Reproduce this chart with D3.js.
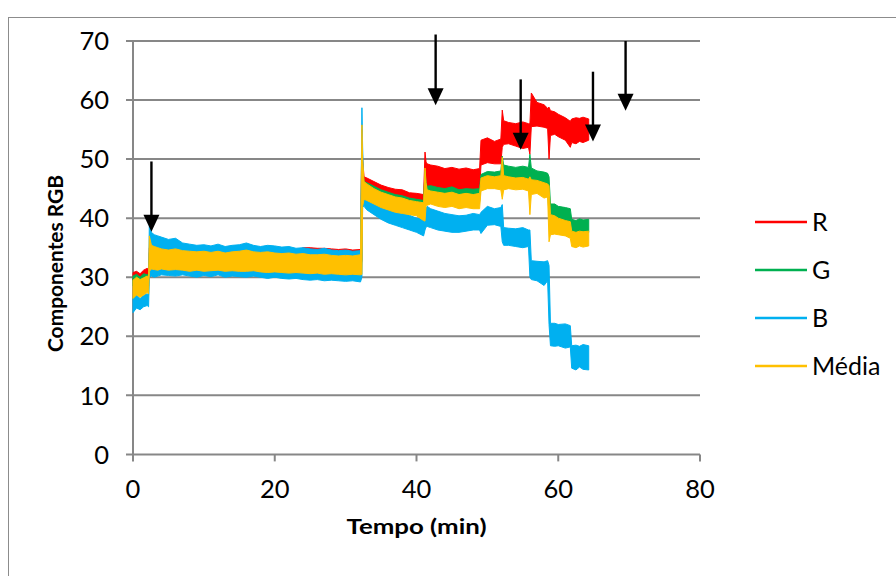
<!DOCTYPE html>
<html>
<head>
<meta charset="utf-8">
<script src="https://cdn.jsdelivr.net/npm/d3@7"></script>
<style>
  html, body { margin: 0; padding: 0; background: #fff; }
  svg { display: block; }
  text { font-family: Lato, "Open Sans", sans-serif; fill: #000; }
</style>
</head>
<body>
<svg id="chart" width="896" height="576"></svg>
<script>
// ---------------- DATA ----------------
const tempo = [0,0.5,1,1.5,2,2.2,
  2.3,2.6,3,3.5,4,5,6,7,8,9,10,11,12,13,14,15,16,17,18,19,20,21,22,23,24,25,26,27,28,29,30,31,32.1,
  32.3,32.4,
  32.6,33,34,35,36,37,38,39,40,41,
  41.2,41.35,
  41.5,42,43,44,45,46,47,48,48.9,
  49.1,50,51,51.9,
  52.1,52.3,
  53,54,55,55.8,
  56,56.2,
  57,58,58.5,
  58.7,58.9,
  59.5,60,61,61.7,
  61.9,62.5,63,63.5,64.3];

const rMax = [30.8,31.0,30.6,31.2,31.5,31.3,
  35.0,34.8,34.6,34.5,34.4,34.3,34.5,34.2,34.3,34.1,34.4,34.2,34.3,34.1,34.2,34.4,34.5,34.2,34.3,34.4,34.3,34.2,34.3,34.4,
  35.0,35.0,34.9,34.9,34.8,34.7,34.8,34.6,34.7,
  55.0,50.0,
  47.0,46.8,46.2,45.6,45.2,44.9,44.8,44.3,44.2,44.0,
  51.2,49.5,
  49.2,49.0,48.8,48.4,48.6,48.3,48.5,48.2,48.4,
  53.2,53.6,53.0,53.4,
  58.3,56.5,
  56.2,56.0,56.3,56.0,
  56.0,61.2,
  59.6,59.2,58.6,
  58.8,58.2,
  58.0,57.6,57.0,56.4,
  56.8,57.0,56.9,57.1,56.8];
const rMin = [29.5,29.6,29.5,29.7,29.8,29.7,
  31.0,31.0,31.0,31.0,31.0,31.0,31.0,31.0,31.0,31.0,31.0,31.0,31.0,31.0,31.0,31.0,31.0,31.0,31.0,31.0,31.0,31.0,31.0,31.0,
  31.0,31.0,31.0,31.0,31.0,31.0,31.0,31.0,31.0,
  33.0,44.0,
  44.5,44.4,43.8,43.4,43.0,42.6,42.4,42.2,42.0,41.8,
  43.0,45.0,
  45.0,45.2,45.0,44.6,44.8,44.4,44.6,44.8,44.6,
  49.0,49.4,49.2,49.2,
  52.0,52.5,
  52.6,52.2,51.8,52.0,
  50.8,55.5,
  55.6,55.4,55.2,
  50.0,54.0,
  54.2,53.8,53.2,52.0,
  52.8,52.6,53.0,52.8,53.2];

const gMax = [30.2,30.5,30.0,30.6,30.4,30.5,
  34.2,34.2,34.2,34.2,34.2,34.2,34.2,34.2,34.2,34.2,34.2,34.2,34.2,34.2,34.2,34.2,34.2,34.2,34.2,34.2,34.2,34.2,34.2,34.2,
  34.0,34.0,34.0,34.0,34.0,34.0,34.0,34.0,34.0,
  52.0,48.0,
  46.2,46.0,45.4,44.8,44.4,44.0,43.8,43.4,43.2,43.0,
  48.0,46.0,
  45.4,45.5,45.2,45.0,45.3,44.8,45.0,44.9,45.0,
  47.4,47.9,47.8,48.0,
  50.5,49.0,
  48.8,48.6,48.8,48.6,
  50.8,48.5,
  48.0,47.8,47.6,
  47.0,42.4,
  42.4,42.0,41.8,41.6,
  39.8,39.6,39.9,39.7,39.8];
const gMin = [28.5,28.5,28.5,28.5,28.5,28.5,
  31.2,31.2,31.2,31.2,31.2,31.2,31.2,31.2,31.2,31.2,31.2,31.2,31.2,31.2,31.2,31.2,31.2,31.2,31.2,31.2,31.2,31.2,31.2,31.2,
  31.2,31.2,31.2,31.2,31.2,31.2,31.2,31.2,31.2,
  33.0,43.0,
  43.8,43.5,43.0,42.6,42.2,41.8,41.6,41.4,41.2,41.0,
  42.0,43.0,
  43.2,43.2,43.0,42.8,43.0,42.8,42.8,42.6,42.8,
  45.2,45.5,45.6,45.6,
  45.0,46.0,
  46.6,46.4,46.5,46.3,
  46.0,46.0,
  45.8,45.5,45.2,
  40.0,40.0,
  39.8,39.6,39.5,39.0,
  37.6,37.4,37.6,37.5,37.6];

const bMax = [26.5,27.0,26.4,26.9,27.2,27.0,
  38.9,37.6,37.2,37.0,36.8,36.4,36.6,35.8,35.6,35.4,35.5,35.3,35.6,35.2,35.4,35.5,35.8,35.4,35.2,35.4,35.3,35.1,35.2,34.9,
  35.0,34.8,34.7,34.9,34.6,34.5,34.6,34.4,34.5,
  58.7,52.0,
  44.0,43.6,42.8,42.2,41.6,41.3,41.0,40.5,40.0,39.8,
  41.0,41.8,
  42.0,41.6,41.2,40.8,40.6,40.4,40.5,40.8,40.6,
  41.0,42.0,41.6,41.8,
  42.3,38.4,
  38.3,38.2,38.4,38.0,
  38.0,32.8,
  32.7,32.6,32.8,
  32.0,22.2,
  22.2,22.0,22.1,21.8,
  18.4,18.5,18.3,18.6,18.4];
const bMin = [24.0,24.8,24.5,25.0,25.2,25.0,
  30.0,30.2,30.0,30.2,30.4,30.3,30.2,30.4,30.2,30.0,30.3,30.1,30.4,30.0,30.2,30.1,30.0,30.2,30.0,29.8,30.0,29.8,29.7,29.8,
  29.6,29.5,29.6,29.4,29.5,29.4,29.3,29.4,29.2,
  30.0,42.0,
  42.0,41.4,40.6,39.8,39.2,38.8,38.4,38.0,37.6,37.0,
  38.0,38.5,
  38.6,38.4,38.0,37.8,37.6,37.6,37.8,38.0,38.0,
  37.4,38.8,38.9,38.6,
  36.0,35.4,
  35.4,35.2,35.0,35.2,
  30.0,29.6,
  29.4,28.6,29.4,
  22.0,18.4,
  18.3,18.4,18.0,18.2,
  14.6,14.3,14.8,14.4,14.3];

const mMax = [29.5,30.0,29.6,29.9,30.2,30.0,
  37.0,35.4,35.2,35.0,34.8,34.6,34.8,34.5,34.4,34.3,34.4,34.2,34.4,34.1,34.3,34.4,34.6,34.3,34.2,34.3,34.1,34.0,34.1,33.9,
  34.0,33.8,33.8,33.9,33.7,33.6,33.7,33.6,33.8,
  55.8,50.0,
  46.2,45.8,45.0,44.4,44.0,43.6,43.4,43.0,42.8,42.6,
  48.5,46.0,
  44.8,44.6,44.4,44.2,44.4,44.0,44.2,44.0,44.2,
  46.8,47.2,47.0,47.2,
  50.3,47.2,
  47.0,46.8,46.9,46.6,
  47.0,46.5,
  46.4,46.0,45.8,
  45.5,40.6,
  40.4,40.0,39.6,39.4,
  37.8,37.6,37.8,37.7,37.8];
const mMin = [26.4,27.0,26.6,27.0,27.4,27.2,
  31.0,31.4,31.3,31.2,31.4,31.2,31.3,31.2,31.0,31.2,31.0,31.1,31.2,31.0,31.1,31.0,31.0,31.1,30.9,30.8,30.9,30.8,30.7,30.8,
  30.7,30.6,30.7,30.5,30.6,30.5,30.4,30.5,30.4,
  30.5,42.0,
  43.2,43.0,42.4,41.8,41.4,41.0,40.8,40.6,40.4,39.6,
  39.5,42.0,
  42.2,42.4,42.0,41.8,42.0,41.6,41.8,41.6,41.6,
  44.6,45.0,45.0,44.8,
  43.2,44.8,
  45.0,44.8,44.9,44.6,
  40.6,44.0,
  44.2,43.4,43.6,
  36.0,37.2,
  37.3,37.2,37.0,36.6,
  35.2,35.0,35.3,35.1,35.3];

const seriesNames = ["R", "G", "B", "Média"];
const seriesColors = ["#FF0000", "#00B050", "#00B0F0", "#FFC000"];
const xTicks = [0, 20, 40, 60, 80];
const yTicks = [0, 10, 20, 30, 40, 50, 60, 70];
// arrows: time (min), top value, tip value
const arrowT   = [2.6, 42.7, 54.7, 64.9, 69.5];
const arrowTop = [49.6, 71.1, 63.5, 64.8, 70.0];
const arrowTip = [37.7, 59.1, 51.6, 53.0, 58.2];

// ---------------- CHART ----------------
const svg = d3.select("#chart");
const W = 896, H = 576;
svg.append("rect").attr("width", W).attr("height", H).attr("fill", "#fff");
svg.append("rect").attr("x", 8.5).attr("y", 17.5).attr("width", 900).attr("height", 600)
  .attr("fill", "none").attr("stroke", "#8c8c8c").attr("stroke-width", 1);

const x = d3.scaleLinear().domain([0, 80]).range([133, 700]);
const y = d3.scaleLinear().domain([0, 70]).range([454.4, 41]);

const grid = "#878787";
// gridlines (with outward ticks)
svg.append("g").selectAll("line").data(yTicks).join("line")
  .attr("x1", 126).attr("x2", x(80))
  .attr("y1", d => y(d)).attr("y2", d => y(d))
  .attr("stroke", grid).attr("stroke-width", 2);
// y axis line
svg.append("line").attr("x1", x(0)).attr("x2", x(0)).attr("y1", y(70)).attr("y2", y(0))
  .attr("stroke", grid).attr("stroke-width", 2);
// x ticks
svg.append("g").selectAll("line").data(xTicks).join("line")
  .attr("x1", d => x(d)).attr("x2", d => x(d)).attr("y1", y(0)).attr("y2", y(0) + 7)
  .attr("stroke", grid).attr("stroke-width", 2);

// tick labels
svg.append("g").selectAll("text").data(yTicks).join("text")
  .attr("x", 109).attr("y", d => y(d)).attr("dy", "0.36em")
  .attr("text-anchor", "end").attr("font-size", 25.5).text(d => d);
svg.append("g").selectAll("text").data(xTicks).join("text")
  .attr("x", d => x(d)).attr("y", 498)
  .attr("text-anchor", "middle").attr("font-size", 25.5).text(d => d);

// axis titles
svg.append("text").attr("x", 416.5).attr("y", 534).attr("text-anchor", "middle")
  .attr("font-size", 21.5).attr("font-weight", "bold")
  .attr("textLength", 140).attr("lengthAdjust", "spacingAndGlyphs").text("Tempo (min)");
svg.append("text").attr("transform", "translate(63,263.5) rotate(-90)").attr("text-anchor", "middle")
  .attr("font-size", 21.5).attr("font-weight", "bold")
  .attr("textLength", 177).attr("lengthAdjust", "spacingAndGlyphs").text("Componentes RGB");

// series areas
const seriesData = [
  [rMin, rMax], [gMin, gMax], [bMin, bMax], [mMin, mMax]
];
const area = d3.area()
  .x((d, i) => x(tempo[i]))
  .y0(d => y(d[0]))
  .y1(d => y(d[1]));
seriesData.forEach((s, k) => {
  const pts = tempo.map((t, i) => [s[0][i], s[1][i]]);
  svg.append("path").datum(pts).attr("d", area)
    .attr("fill", seriesColors[k]).attr("stroke", seriesColors[k]).attr("stroke-width", 1)
    .attr("stroke-linejoin", "round");
});

// arrows
const arrows = arrowT.map((t, i) => ({ t, top: arrowTop[i], tip: arrowTip[i] }));
const ag = svg.append("g");
arrows.forEach(a => {
  const ax = x(a.t), yTop = y(a.top), yTip = y(a.tip);
  ag.append("line").attr("x1", ax).attr("x2", ax).attr("y1", yTop).attr("y2", yTip - 12)
    .attr("stroke", "#000").attr("stroke-width", 2.4);
  ag.append("path").attr("d", `M${ax - 8},${yTip - 17} L${ax + 8},${yTip - 17} L${ax},${yTip} Z`)
    .attr("fill", "#000");
});

// legend
const legY = [222, 270, 318, 366];
const lg = svg.append("g");
seriesNames.forEach((n, i) => {
  lg.append("line").attr("x1", 755).attr("x2", 807).attr("y1", legY[i]).attr("y2", legY[i])
    .attr("stroke", seriesColors[i]).attr("stroke-width", 2.5);
  lg.append("text").attr("x", 812).attr("y", legY[i]).attr("dy", "0.36em")
    .attr("font-size", 25).text(n);
});
</script>
</body>
</html>
